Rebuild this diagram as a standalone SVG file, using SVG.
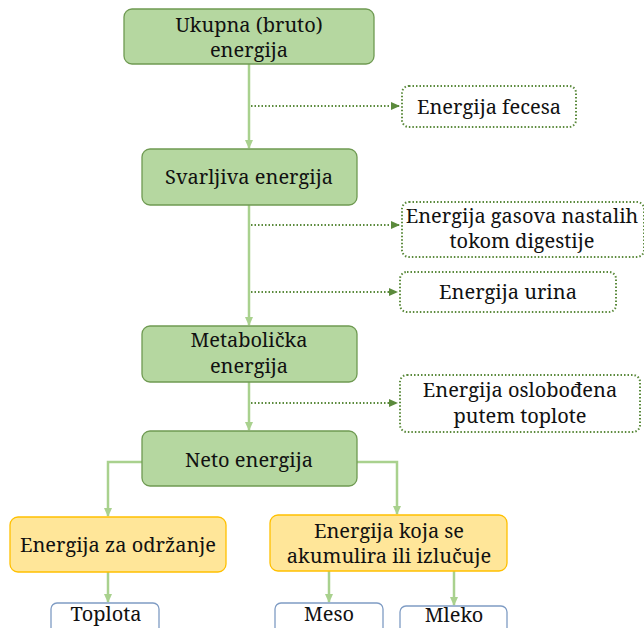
<svg xmlns="http://www.w3.org/2000/svg" width="644" height="628" viewBox="0 0 644 628">
<style>
text{font-size:20px;fill:#111;text-anchor:middle}
.g{fill:#b5d7a0;stroke:#6f9a52;stroke-width:1.3}
.y{fill:#ffe699;stroke:#ffc000;stroke-width:1.3}
.b{fill:#fff;stroke:#7f9cc4;stroke-width:1.3}
.d{fill:#fff;stroke:#5b8a3c;stroke-width:2;stroke-dasharray:1.5 2}
.s{fill:none;stroke:#a9d18e;stroke-width:2.5}
.dl{fill:none;stroke:#5b8a3c;stroke-width:2;stroke-dasharray:1.5 2}
</style>
<defs>
<marker id="as" markerWidth="10" markerHeight="10" refX="8" refY="5" orient="auto" markerUnits="userSpaceOnUse"><path d="M0,1 L9,5 L0,9 Z" fill="#a9d18e"/></marker>
<marker id="ad" markerWidth="10" markerHeight="10" refX="8" refY="5" orient="auto" markerUnits="userSpaceOnUse"><path d="M0,1 L9,5 L0,9 Z" fill="#5b8a3c"/></marker>
</defs>
<g id="connectors">
<path class="s" d="M249,64 V148" marker-end="url(#as)"/>
<path class="s" d="M249,205 V325" marker-end="url(#as)"/>
<path class="s" d="M249,382 V430" marker-end="url(#as)"/>
<path class="s" d="M142,462 H108 V516" marker-end="url(#as)"/>
<path class="s" d="M357,462 H397 V514" marker-end="url(#as)"/>
<path class="s" d="M108,572 V602" marker-end="url(#as)"/>
<path class="s" d="M329,571 V602" marker-end="url(#as)"/>
<path class="s" d="M454,571 V605" marker-end="url(#as)"/>
<path class="dl" d="M251,106 H399" marker-end="url(#ad)"/>
<path class="dl" d="M251,225 H399" marker-end="url(#ad)"/>
<path class="dl" d="M251,292 H397" marker-end="url(#ad)"/>
<path class="dl" d="M251,403 H397" marker-end="url(#ad)"/>
</g>
<g font-family="Noto Serif, DejaVu Serif, serif">
<g id="n1"><rect class="g" x="124" y="9" width="250" height="55" rx="8"/><text x="249" y="32">Ukupna (bruto)</text><text x="249" y="57">energija</text></g>
<g id="n2"><rect class="d" x="402" y="86" width="174" height="41" rx="7"/><text x="489" y="114">Energija fecesa</text></g>
<g id="n3"><rect class="g" x="142" y="149" width="215" height="56" rx="8"/><text x="249" y="184">Svarljiva energija</text></g>
<g id="n4"><rect class="d" x="402" y="202" width="242" height="55" rx="7"/><text x="522" y="223">Energija gasova nastalih</text><text x="522" y="248">tokom digestije</text></g>
<g id="n5"><rect class="d" x="400" y="272" width="216" height="40" rx="7"/><text x="508" y="299">Energija urina</text></g>
<g id="n6"><rect class="g" x="142" y="326" width="215" height="56" rx="8"/><text x="249" y="347">Metabolička</text><text x="249" y="373">energija</text></g>
<g id="n7"><rect class="d" x="400" y="375" width="240" height="57" rx="7"/><text x="520" y="397">Energija oslobođena</text><text x="520" y="423">putem toplote</text></g>
<g id="n8"><rect class="g" x="142" y="431" width="215" height="55" rx="8"/><text x="249" y="467">Neto energija</text></g>
<g id="n9"><rect class="y" x="10" y="517" width="216" height="55" rx="8"/><text x="118" y="552">Energija za održanje</text></g>
<g id="n10"><rect class="y" x="270" y="515" width="237" height="56" rx="8"/><text x="389" y="538">Energija koja se</text><text x="389" y="563">akumulira ili izlučuje</text></g>
<g id="n11"><rect class="b" x="51" y="603" width="108" height="40" rx="6"/><text x="106" y="621">Toplota</text></g>
<g id="n12"><rect class="b" x="275" y="603" width="108" height="40" rx="6"/><text x="329" y="621">Meso</text></g>
<g id="n13"><rect class="b" x="400" y="606" width="107" height="40" rx="6"/><text x="454" y="622">Mleko</text></g>
</g>
</svg>
